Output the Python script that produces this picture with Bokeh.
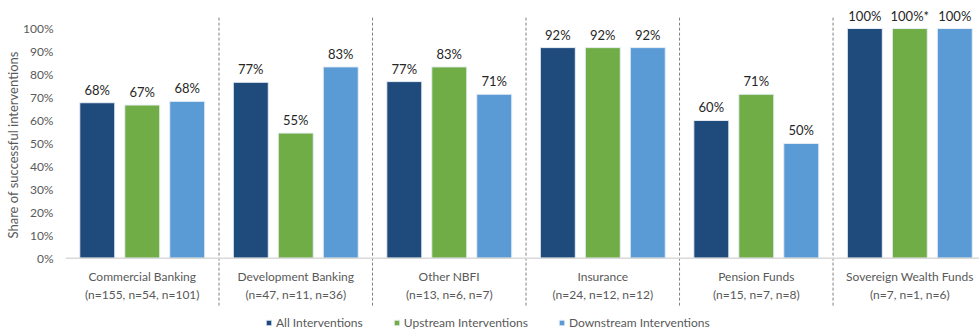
from bokeh.plotting import figure
from bokeh.models import (ColumnDataSource, FixedTicker, PrintfTickFormatter, Span,
                          Legend, LegendItem, Title)
from bokeh.core.properties import value
from bokeh.embed import file_html
from bokeh.resources import INLINE

categories = ["Commercial Banking", "Development Banking", "Other NBFI",
              "Insurance", "Pension Funds", "Sovereign Wealth Funds"]
sample_sizes = ["(n=155, n=54, n=101)", "(n=47, n=11, n=36)", "(n=13, n=6, n=7)",
                "(n=24, n=12, n=12)", "(n=15, n=7, n=8)", "(n=7, n=1, n=6)"]
series_names = ["All Interventions", "Upstream Interventions", "Downstream Interventions"]
all_vals = [67.7, 76.6, 76.9, 91.7, 60.0, 100.0]
up_vals = [66.7, 54.5, 83.3, 91.7, 71.4, 100.0]
down_vals = [68.3, 83.3, 71.4, 91.7, 50.0, 100.0]
all_labels = ["68%", "77%", "77%", "92%", "60%", "100%"]
up_labels = ["67%", "55%", "83%", "92%", "71%", "100%*"]
down_labels = ["68%", "83%", "71%", "92%", "50%", "100%"]
y_ticks = [0, 10, 20, 30, 40, 50, 60, 70, 80, 90, 100]

colors = ["#1F4A7C", "#70AD47", "#5B9BD5"]
FONT = "Lato"

p = figure(width=979, height=332, output_backend="svg", toolbar_location=None,
           x_range=(-0.5, 5.454), y_range=(-32.3, 112.2), x_axis_location=None,
           min_border_left=65, min_border_right=0, min_border_top=0, min_border_bottom=0)
p.outline_line_color = None
p.grid.visible = False
p.background_fill_color = "white"
p.border_fill_color = "white"

xs = list(range(len(categories)))
offsets = [-0.293, 0.0, 0.293]
bar_w = 0.228
renderers = []
for vals, labels, off, col in zip([all_vals, up_vals, down_vals],
                                  [all_labels, up_labels, down_labels], offsets, colors):
    src = ColumnDataSource(dict(x=[x + off for x in xs], top=vals, lab=labels))
    r = p.vbar(x="x", top="top", width=bar_w, bottom=0, source=src,
               fill_color=col, line_color="#E8EEF6", line_width=1)
    renderers.append(r)
    p.text(x="x", y="top", text="lab", source=src, text_align="center",
           text_baseline="bottom", y_offset=-5, text_font=value(FONT),
           text_font_size="13px", text_color="#262626")

# x axis baseline
p.add_layout(Span(location=0, dimension="width", line_color="#D9D9D9", line_width=1.5))

# dashed group separators
sep_x = [i + 0.5 for i in range(len(categories) - 1)]
p.segment(x0=sep_x, x1=sep_x, y0=[-20.6] * len(sep_x), y1=[105.2] * len(sep_x),
          line_color="#808080", line_width=1, line_dash="3 2")

# category labels (two lines)
cat_src = ColumnDataSource(dict(x=xs, y1=[-8.0] * len(xs), y2=[-15.8] * len(xs),
                                c=categories, n=sample_sizes))
p.text(x="x", y="y1", text="c", source=cat_src, text_align="center",
       text_baseline="middle", text_font=value(FONT), text_font_size="12px",
       text_color="#595959")
p.text(x="x", y="y2", text="n", source=cat_src, text_align="center",
       text_baseline="middle", text_font=value(FONT), text_font_size="12px",
       text_color="#595959")

# y axis
ya = p.yaxis[0]
ya.ticker = FixedTicker(ticks=y_ticks)
ya.formatter = PrintfTickFormatter(format="%d%%")
ya.axis_line_color = None
ya.major_tick_line_color = None
ya.minor_tick_line_color = None
ya.major_tick_out = 0
ya.major_tick_in = 0
ya.major_label_standoff = 12
ya.major_label_text_font = FONT
ya.major_label_text_font_size = "12px"
ya.major_label_text_color = "#595959"

yt = Title(text="Share of successful interventions", align="left", offset=94,
           text_font=FONT, text_font_size="13px", text_font_style="normal",
           text_color="#595959", standoff=0)
p.add_layout(yt, "left")

legend = Legend(items=[LegendItem(label=n, renderers=[r]) for n, r in zip(series_names, renderers)],
                orientation="horizontal", location=(200, 2), background_fill_alpha=0,
                border_line_color=None, padding=0, margin=0, spacing=30,
                glyph_width=7, glyph_height=7, label_standoff=4,
                label_text_font=FONT, label_text_font_size="12px",
                label_text_color="#595959", label_height=14)
p.add_layout(legend, "center")

open("out.html", "w").write(file_html(p, INLINE))
